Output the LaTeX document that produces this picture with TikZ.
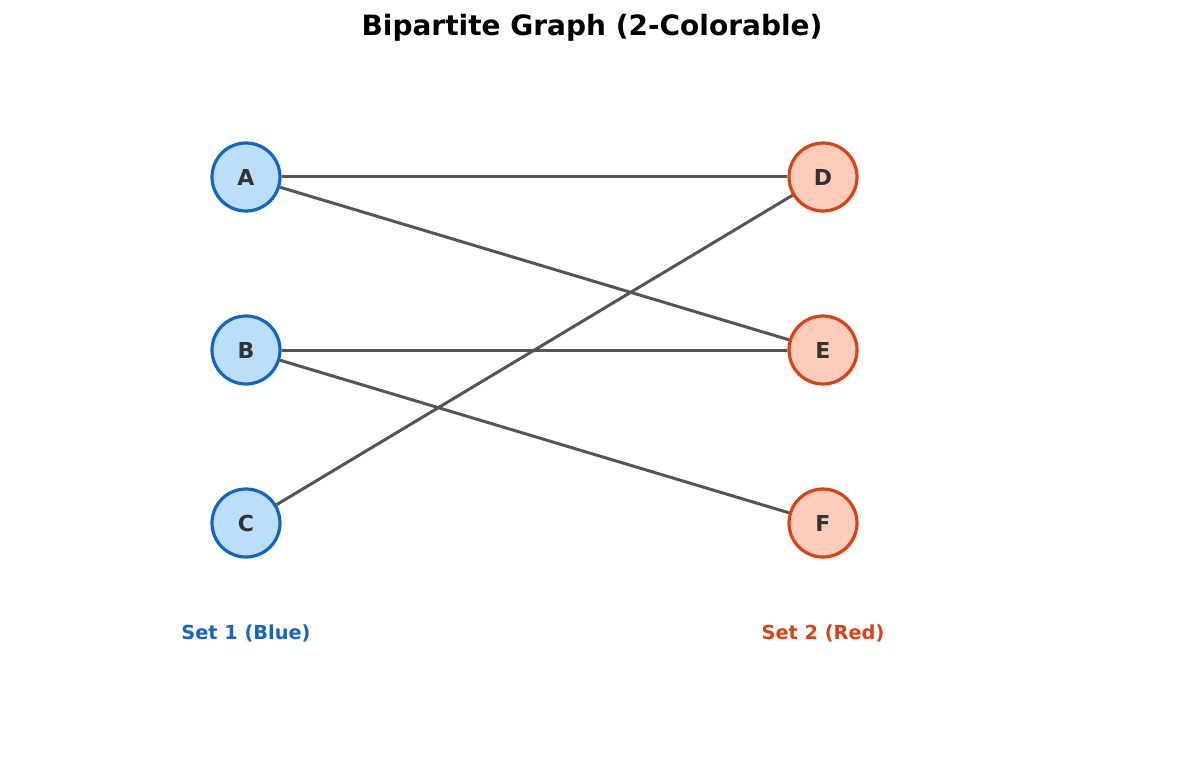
\documentclass[tikz,border=0pt]{standalone}
\usepackage{fontspec}
\setmainfont{DejaVu Sans}
\begin{document}
\begin{tikzpicture}[x=0.75pt,y=-0.75pt]
\definecolor{bfill}{HTML}{BBDEFB}\definecolor{bdraw}{HTML}{1565C0}
\definecolor{rfill}{HTML}{FFCCBC}\definecolor{rdraw}{HTML}{D84315}
\definecolor{edge}{HTML}{555555}\definecolor{txt}{HTML}{333333}
\tikzset{vtx/.style={circle,minimum size=51pt,inner sep=0pt,line width=2.4pt,text=txt,font=\bfseries\fontsize{16.5}{18}\selectfont},
bv/.style={vtx,draw=bdraw,fill=bfill},rv/.style={vtx,draw=rdraw,fill=rfill},
ed/.style={draw=edge,line width=2.25pt},
lab/.style={font=\bfseries\fontsize{14.5}{16}\selectfont}}
\useasboundingbox (0,0) rectangle (1185,770);
\node[font=\bfseries\fontsize{21}{24}\selectfont] (t) at (592,28) {Bipartite Graph (2-Colorable)};
\node[bv] (A) at (246,177) {A};
\node[bv] (B) at (246,350) {B};
\node[bv] (C) at (246,523) {C};
\node[rv] (D) at (823,177) {D};
\node[rv] (E) at (823,350) {E};
\node[rv] (F) at (823,523) {F};
\draw[ed] (A) -- (D);
\draw[ed] (A) -- (E);
\draw[ed] (B) -- (E);
\draw[ed] (B) -- (F);
\draw[ed] (C) -- (D);
\node[lab,text=bdraw] (s1) at (246,633) {Set 1 (Blue)};
\node[lab,text=rdraw] (s2) at (823,633) {Set 2 (Red)};
\end{tikzpicture}
\end{document}
